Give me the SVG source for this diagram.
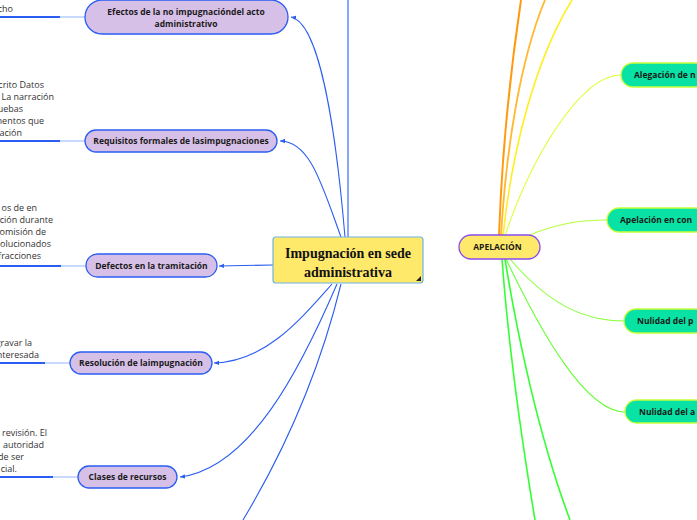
<svg xmlns="http://www.w3.org/2000/svg" width="697" height="520" viewBox="0 0 697 520">
<style>
.bg{fill:#ffffff}
.lnode rect{fill:#d7c0e7;stroke:#2a5df2;stroke-width:1.3}
.lbl{font-family:"Open Sans","Noto Sans",sans-serif;font-weight:bold;font-size:8.5px;fill:#1a1a1a;text-anchor:middle}
.note{font-family:"Open Sans","Noto Sans",sans-serif;font-size:9px;fill:#333333;text-anchor:end}
.conn path{fill:none}
.blue{stroke:#2a5df2;stroke-width:1.1}
.ul1{stroke:#2a5df2;stroke-width:2}
.ul2{stroke:#b8ccff;stroke-width:1.5}
.gnode rect{fill:#08e2a4;stroke:#c6ff3a;stroke-width:1.3}
.main text{font-family:"Liberation Serif",serif;font-weight:bold;font-size:14px;fill:#111;text-anchor:middle}
</style>
<defs>
<marker id="arr" markerWidth="6" markerHeight="6" refX="5" refY="3" orient="auto" markerUnits="userSpaceOnUse">
<path d="M0,0.8 L5,3 L0,5.2 z" fill="#2a5df2"/>
</marker>
</defs>
<rect class="bg" x="0" y="0" width="697" height="520"/>

<g id="connectors" class="conn">
<path class="blue" d="M348,237 L348,0"/>
<path class="blue" d="M345,237 C335,120 318,22 291,17" marker-end="url(#arr)"/>
<path class="blue" d="M341,237 C322,185 310,141 280,141" marker-end="url(#arr)"/>
<path class="blue" d="M273,265 L219,266" marker-end="url(#arr)"/>
<path class="blue" d="M332,284 C300,320 265,362 214,363" marker-end="url(#arr)"/>
<path class="blue" d="M337,284 C300,370 250,468 180,477" marker-end="url(#arr)"/>
<path class="blue" d="M341,284 C320,370 285,450 243,520"/>
<!-- left underlines -->
<path class="ul1" d="M0,17 L60,17"/><path class="ul2" d="M60,17 L85,17"/>
<path class="ul1" d="M0,141 L60,141"/><path class="ul2" d="M60,141 L85,141"/>
<path class="ul1" d="M0,266 L61,266"/><path class="ul2" d="M61,266 L86,266"/>
<path class="ul1" d="M0,363 L45,363"/><path class="ul2" d="M45,363 L70,363"/>
<path class="ul1" d="M0,477 L53,477"/><path class="ul2" d="M53,477 L78,477"/>
<!-- right side -->
<path d="M499,236 C502,150 512,60 521,0" stroke="#ff9a10" stroke-width="2"/>
<path d="M501,236 C506,150 520,60 545,0" stroke="#ffb830" stroke-width="1.8"/>
<path d="M503,236 C512,150 535,60 572,0" stroke="#ffee22" stroke-width="1.6"/>
<path d="M505,236 C530,160 580,75 621,75" stroke="#ddff33" stroke-width="1.1"/>
<path d="M527,236 C560,222 585,220 607,220" stroke="#b4ff3a" stroke-width="1.1"/>
<path d="M510,259 C545,300 580,321 624,321" stroke="#88ff33" stroke-width="1.1"/>
<path d="M506,259 C540,330 585,412 625,412" stroke="#66ff33" stroke-width="1.1"/>
<path d="M502,259 C508,340 520,430 535,520" stroke="#33ff33" stroke-width="1.6"/>
<path d="M505,259 C518,340 540,440 570,520" stroke="#33ff33" stroke-width="1.6"/>
</g>

<g class="notes">
<text class="note" x="13" y="12">cho</text>
<text class="note" x="44" y="88">crito Datos</text>
<text class="note" x="54" y="100">La narración</text>
<text class="note" x="23" y="112">uebas</text>
<text class="note" x="44" y="124">mentos que</text>
<text class="note" x="22" y="136">ación</text>
<text class="note" x="37" y="211">os de en</text>
<text class="note" x="53" y="223">ción durante</text>
<text class="note" x="46" y="235">omisión de</text>
<text class="note" x="51" y="247">olucionados</text>
<text class="note" x="41" y="259">fracciones</text>
<text class="note" x="32" y="346">gravar la</text>
<text class="note" x="39" y="358">nteresada</text>
<text class="note" x="47" y="436">revisión. El</text>
<text class="note" x="44" y="448">autoridad</text>
<text class="note" x="24" y="460">de ser</text>
<text class="note" x="17" y="472">cial.</text>
</g>

<g id="node-efectos" class="lnode">
<rect x="85" y="0" width="203" height="34" rx="17"/>
<text class="lbl" x="186" y="15" font-size="9">Efectos de la no impugnacióndel acto</text>
<text class="lbl" x="186" y="27">administrativo</text>
</g>
<g id="node-requisitos" class="lnode">
<rect x="85" y="130" width="192" height="22" rx="11"/>
<text class="lbl" x="181" y="144">Requisitos formales de lasimpugnaciones</text>
</g>
<g id="node-defectos" class="lnode">
<rect x="86" y="254" width="131" height="23" rx="11.5"/>
<text class="lbl" x="151.5" y="269">Defectos en la tramitación</text>
</g>
<g id="node-resolucion" class="lnode">
<rect x="70" y="352" width="142" height="22" rx="11"/>
<text class="lbl" x="141" y="366">Resolución de laimpugnación</text>
</g>
<g id="node-clases" class="lnode">
<rect x="78" y="466" width="99" height="22" rx="11"/>
<text class="lbl" x="127.5" y="480">Clases de recursos</text>
</g>

<g id="node-main" class="main">
<rect x="273" y="237" width="150" height="46" rx="3" fill="#ffe96b" stroke="#6cb4e4" stroke-width="1.2"/>
<text x="348" y="258">Impugnación en sede</text>
<text x="348" y="277">administrativa</text>
<path d="M421,276 L421,281 L416,281 z" fill="#222"/>
</g>

<g id="node-apelacion">
<rect x="459" y="235" width="81" height="24" rx="12" fill="#ffe96b" stroke="#8a4cf0" stroke-width="1.3"/>
<text class="lbl" x="497.5" y="250">APELACIÓN</text>
</g>
<g id="node-alegacion" class="gnode">
<rect x="621" y="63" width="120" height="24" rx="12"/>
<text class="lbl" x="634" y="78" style="text-anchor:start">Alegación de n</text>
</g>
<g id="node-apelacion-con" class="gnode">
<rect x="607" y="208" width="130" height="24" rx="12"/>
<text class="lbl" x="620" y="223" style="text-anchor:start">Apelación en con</text>
</g>
<g id="node-nulidad-p" class="gnode">
<rect x="624" y="309" width="120" height="24" rx="12"/>
<text class="lbl" x="637" y="324" style="text-anchor:start">Nulidad del p</text>
</g>
<g id="node-nulidad-a" class="gnode">
<rect x="625" y="400" width="120" height="23" rx="11.5"/>
<text class="lbl" x="639" y="415" style="text-anchor:start">Nulidad del a</text>
</g>
</svg>
